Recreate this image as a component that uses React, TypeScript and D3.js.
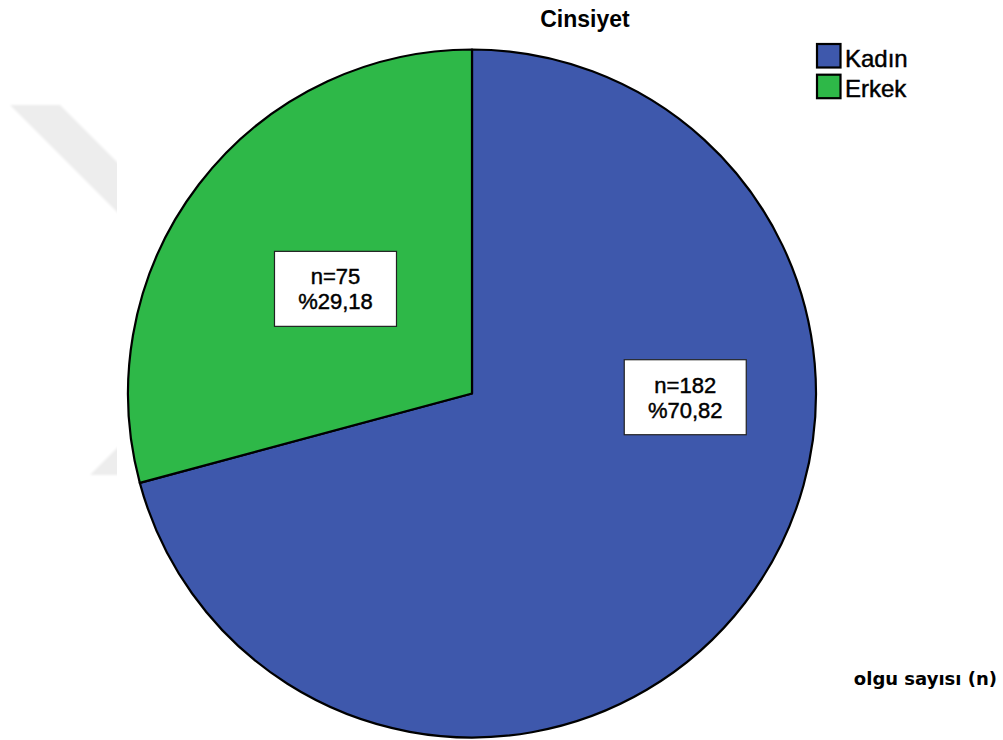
import React from "react";
import * as d3 from "d3";

// Gender breakdown of the cases
const categories = ["Kadın", "Erkek"];
const counts = [182, 75];
const colors = ["#3E58AC", "#2EB848"];
const title = "Cinsiyet";
const footnote = "olgu sayısı (n)";

const W = 1003;
const H = 740;
const cx = 472;
const cy = 393.5;
const R = 344;

// label anchor for each slice: angle (deg, clockwise from 12 o'clock) and radius fraction;
// null means the slice centroid is used
const labelAnchors: ({ angle: number; frac: number } | null)[] = [
  { angle: 91, frac: 0.62 },
  null,
];

const total = d3.sum(counts);
const fmtPct = (v: number) => "%" + d3.format(".2f")(v).replace(".", ",");

export default function App() {
  const pie = d3
    .pie<number>()
    .sort(null)
    .startAngle(0)
    .endAngle(2 * Math.PI);
  const arcs = pie(counts);
  const arc = d3.arc<d3.PieArcDatum<number>>().innerRadius(0).outerRadius(R);

  const boxW = 122;
  const boxH = 75;
  const font = "'Liberation Sans', Arial, sans-serif";
  // slightly heavier regular text
  const heavy = { stroke: "#000", strokeWidth: 0.45 };

  return (
    <svg
      width={W}
      height={H}
      style={{ position: "absolute", left: 0, top: 0, background: "#fff" }}
      fontFamily={font}
    >
      <defs>
        <clipPath id="wm-clip">
          <rect x={0} y={0} width={117} height={H} />
        </clipPath>
        <filter id="wm-blur">
          <feGaussianBlur stdDeviation={1} />
        </filter>
      </defs>
      {/* faint background emblem */}
      <g clipPath="url(#wm-clip)" fill="#ededed" filter="url(#wm-blur)">
        <polygon points="10,105 60,105 170,215 170,265" />
        <polygon points="90,475 140,475 200,415 150,415" />
      </g>

      <text x={585} y={26.5} textAnchor="middle" fontSize={23} fontWeight="bold" fill="#000">
        {title}
      </text>

      <g transform={`translate(${cx},${cy})`}>
        {arcs.map((a, i) => (
          <path key={categories[i]} d={arc(a) || ""} fill={colors[i]} stroke="#000" strokeWidth={2.2} strokeLinejoin="round" />
        ))}
        {arcs.map((a, i) => {
          const anchor = labelAnchors[i];
          let lx: number, ly: number;
          if (anchor) {
            const t = (anchor.angle * Math.PI) / 180;
            lx = Math.sin(t) * R * anchor.frac;
            ly = -Math.cos(t) * R * anchor.frac;
          } else {
            [lx, ly] = arc.centroid(a);
          }
          return (
            <g key={"lab" + i} transform={`translate(${lx},${ly})`}>
              <rect x={-boxW / 2} y={-boxH / 2} width={boxW} height={boxH} fill="#fff" stroke="#222" strokeWidth={1.2} />
              <text x={0} y={-4.5} textAnchor="middle" fontSize={22} fill="#000" {...heavy}>
                {`n=${counts[i]}`}
              </text>
              <text x={0} y={20.5} textAnchor="middle" fontSize={22} fill="#000" {...heavy}>
                {fmtPct((counts[i] / total) * 100)}
              </text>
            </g>
          );
        })}
      </g>

      {/* legend */}
      <g>
        {categories.map((c, i) => (
          <g key={c} transform={`translate(817,${44 + i * 30.7})`}>
            <rect x={0} y={0} width={23.5} height={23.5} fill={colors[i]} stroke="#000" strokeWidth={2.2} />
            <text x={28} y={22.5} fontSize={24} fill="#000" {...heavy}>
              {c}
            </text>
          </g>
        ))}
      </g>

      <text x={997} y={685} textAnchor="end" fontSize={18} fontWeight="bold" fontFamily="'DejaVu Sans', Verdana, sans-serif" fill="#000">
        {footnote}
      </text>
    </svg>
  );
}
